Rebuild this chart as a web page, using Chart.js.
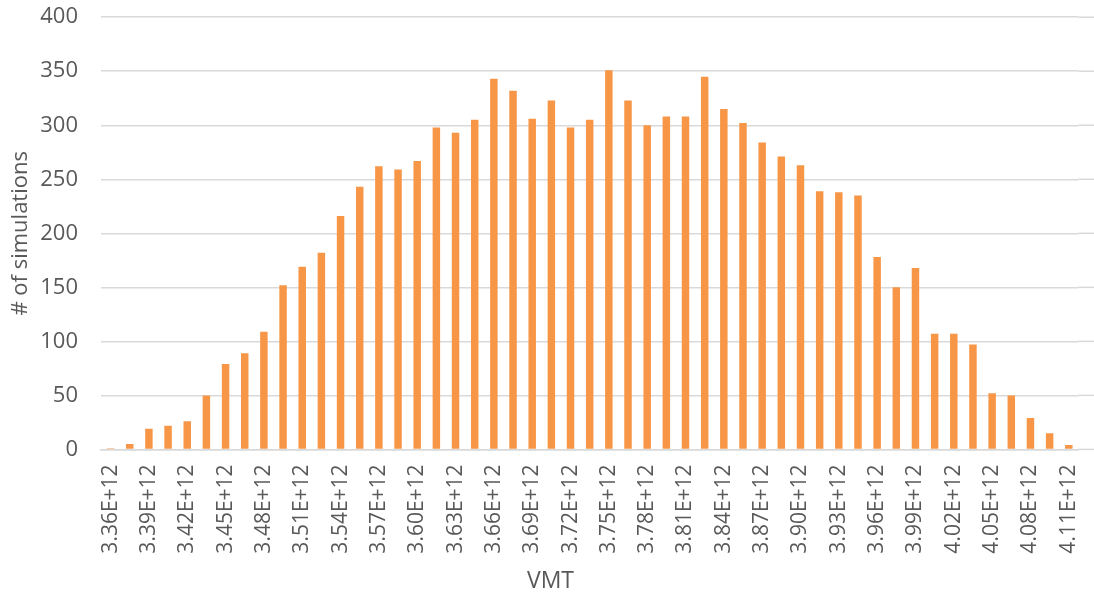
<!DOCTYPE html>
<html lang="en">
  <head>
    <meta charset="UTF-8" />
    <title>VMT simulations</title>
    <style>
      body { margin: 0; background: #fff; }
    </style>
  </head>
  <body>
    <div>
      <canvas id="myChart" width="1094" height="603"></canvas>
    </div>
    <script src="https://cdn.jsdelivr.net/npm/chart.js"></script>
    <script>
        const labels = [
            "3.36E+12", "3.38E+12", "3.39E+12", "3.41E+12", "3.42E+12", "3.44E+12",
            "3.45E+12", "3.47E+12", "3.48E+12", "3.50E+12", "3.51E+12", "3.53E+12",
            "3.54E+12", "3.56E+12", "3.57E+12", "3.59E+12", "3.60E+12", "3.62E+12",
            "3.63E+12", "3.65E+12", "3.66E+12", "3.68E+12", "3.69E+12", "3.71E+12",
            "3.72E+12", "3.74E+12", "3.75E+12", "3.77E+12", "3.78E+12", "3.80E+12",
            "3.81E+12", "3.83E+12", "3.84E+12", "3.86E+12", "3.87E+12", "3.89E+12",
            "3.90E+12", "3.92E+12", "3.93E+12", "3.95E+12", "3.96E+12", "3.98E+12",
            "3.99E+12", "4.01E+12", "4.02E+12", "4.04E+12", "4.05E+12", "4.07E+12",
            "4.08E+12", "4.10E+12", "4.11E+12"
        ];

        const simulations = [
            1, 5, 19, 22, 26, 50, 79, 89, 109, 152,
            169, 182, 216, 243, 262, 259, 267, 298, 293, 305,
            343, 332, 306, 323, 298, 305, 351, 323, 300, 308,
            308, 345, 315, 302, 284, 271, 263, 239, 238, 235,
            178, 150, 168, 107, 107, 97, 52, 50, 29, 15,
            4
        ];

        const yTicks = [0, 50, 100, 150, 200, 250, 300, 350, 400];

        const fontFamily = "'Open Sans', 'Liberation Sans', sans-serif";
        const textColor = "#595959";
        const gridColor = "#d9d9d9";

        // gridlines in the original run on past the last category to the edge
        const gridToEdge = {
            id: 'gridToEdge',
            beforeDatasetsDraw(chart) {
                const {ctx, chartArea, scales: {y}} = chart;
                ctx.save();
                ctx.strokeStyle = gridColor;
                ctx.lineWidth = 1.5;
                y.ticks.forEach((t) => {
                    const py = y.getPixelForValue(t.value);
                    ctx.beginPath();
                    ctx.moveTo(chartArea.right, py);
                    ctx.lineTo(chart.width, py);
                    ctx.stroke();
                });
                ctx.restore();
            }
        };

        const config = {
            type: "bar",
            data: {
                labels: labels,
                datasets: [{
                    label: "# of simulations",
                    data: simulations,
                    backgroundColor: "#F79646",
                    barPercentage: 0.39,
                    categoryPercentage: 1.0,
                }]
            },
            plugins: [gridToEdge],
            options: {
                responsive: false,
                animation: false,
                layout: {
                    padding: { top: 0, left: 8, right: 1, bottom: 8 }
                },
                plugins: {
                    legend: { display: false },
                    tooltip: { enabled: false },
                    title: {
                        display: true,
                        position: 'bottom',
                        text: 'VMT',
                        color: textColor,
                        font: { family: fontFamily, size: 23, weight: 'normal' },
                        padding: { top: 0, bottom: 0 }
                    }
                },
                scales: {
                    x: {
                        grid: {
                            drawOnChartArea: false,
                            drawTicks: true,
                            tickLength: 15,
                            tickColor: "rgba(0,0,0,0)"
                        },
                        border: { color: gridColor, width: 1.5 },
                        ticks: {
                            autoSkip: false,
                            maxRotation: 90,
                            minRotation: 90,
                            padding: 0,
                            color: textColor,
                            font: { family: fontFamily, size: 21 },
                            callback: function(value, index) {
                                return index % 2 === 0 ? labels[index] : "";
                            }
                        },
                        afterFit(scale) { scale.height = 118; }
                    },
                    y: {
                        min: 0,
                        max: 400,
                        afterBuildTicks(scale) {
                            scale.ticks = yTicks.map((v) => ({ value: v }));
                        },
                        grid: {
                            color: gridColor,
                            lineWidth: 1.5,
                            drawTicks: true,
                            tickLength: 19,
                            tickColor: "rgba(0,0,0,0)"
                        },
                        border: { display: false },
                        ticks: {
                            padding: 4,
                            color: textColor,
                            font: { family: fontFamily, size: 22 }
                        },
                        title: {
                            display: true,
                            text: '# of simulations',
                            color: textColor,
                            font: { family: fontFamily, size: 22 },
                            padding: { top: 0, bottom: 0 }
                        },
                        afterFit(scale) { scale.width = 93; }
                    }
                }
            }
        };

        const myChart = new Chart(document.getElementById("myChart"), config);
    </script>
  </body>
</html>
